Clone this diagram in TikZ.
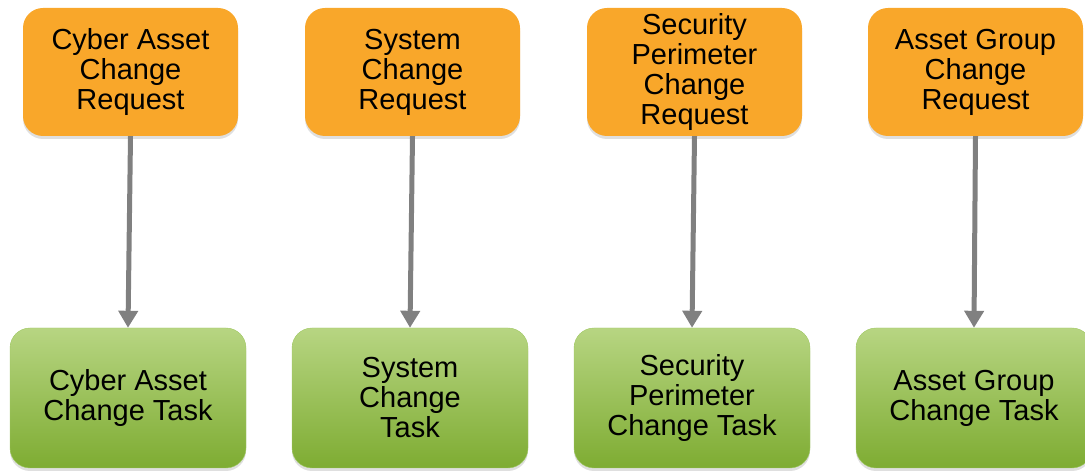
\documentclass[tikz,border=0pt]{standalone}
\usepackage{fontspec}
\setmainfont{Liberation Sans}
\usepackage{xcolor}
\usetikzlibrary{arrows.meta,shadows}

\definecolor{reqorange}{RGB}{249,167,42}
\definecolor{tasktop}{RGB}{183,213,130}
\definecolor{taskbot}{RGB}{126,172,50}
\definecolor{taskline}{RGB}{160,200,100}
\definecolor{flowgray}{RGB}{128,128,128}

\tikzset{
  request/.style={rounded corners=20pt,fill=reqorange,minimum width=215pt,minimum height=128pt,
    align=center,font=\fontsize{29}{30}\selectfont,
    drop shadow={shadow xshift=0pt,shadow yshift=-3pt,opacity=0.25}},
  task/.style={rounded corners=20pt,draw=taskline,top color=tasktop,bottom color=taskbot,
    minimum width=236pt,minimum height=140pt,align=center,font=\fontsize{29}{30}\selectfont,
    drop shadow={shadow xshift=0pt,shadow yshift=-3pt,opacity=0.25}},
  flow/.style={draw=flowgray,line width=5pt,-{Triangle[length=17pt,width=19pt]}}
}

\begin{document}
\begin{tikzpicture}[x=1pt,y=1pt]
\useasboundingbox (0,0) rectangle (1085,471);
\clip (0,0) rectangle (1085,471);
% request boxes
\node[request] (req1) at (130.5,399) {Cyber Asset\\Change\\Request};
\node[request] (req2) at (412.5,399) {System\\Change\\Request};
\node[request] (req3) at (694.5,399) {Security\\Perimeter\\Change\\Request};
\node[request] (req4) at (975.5,399) {Asset Group\\Change\\Request};
% task boxes
\node[task] (task1) at (128,73) {Cyber Asset\\Change Task};
\node[task] (task2) at (410,73) {System\\Change\\Task};
\node[task] (task3) at (692,73) {Security\\Perimeter\\Change Task};
\node[task] (task4) at (974,73) {Asset Group\\Change Task};
% arrows
\draw[flow] (req1.south) -- (task1.north);
\draw[flow] (req2.south) -- (task2.north);
\draw[flow] (req3.south) -- (task3.north);
\draw[flow] (req4.south) -- (task4.north);
\end{tikzpicture}
\end{document}
